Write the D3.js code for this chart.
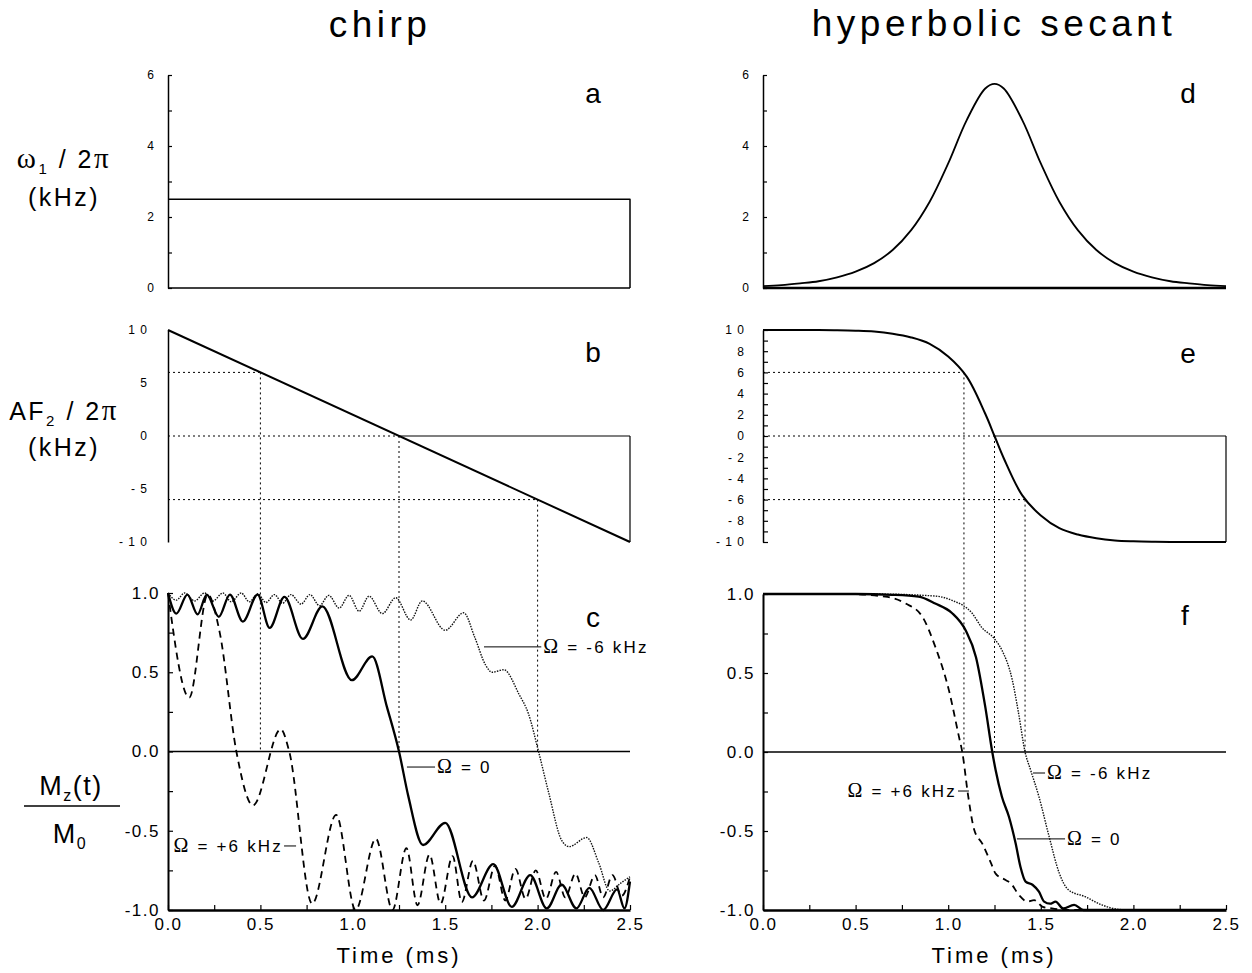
<!DOCTYPE html>
<html>
<head>
<meta charset="utf-8">
<script src="https://cdn.jsdelivr.net/npm/d3@7"></script>
<style>
  body { margin: 0; background: #fff; }
  text { font-family: "Liberation Sans", Arial, Helvetica, sans-serif; fill: #000; }
</style>
</head>
<body>
<svg id="fig" width="1252" height="973"></svg>
<script>
// ---------------- data ----------------
const timeDomain = [0, 2.5];                       // ms
const b1Ticks = [0, 1, 2, 3, 4, 5, 6];
const b1Labels = [0, 2, 4, 6];
const chirpSweepTicks = [-10, -5, 0, 5, 10];
const sechSweepTicks = d3.range(-10, 11, 1);
const sechSweepLabels = d3.range(-10, 11, 2);
const mzTicks = d3.range(-1, 1.0001, 0.25);
const mzLabels = [-1, -0.5, 0, 0.5, 1];
const timeTicks = d3.range(0, 2.5001, 0.25);
const timeLabels = [0, 0.5, 1, 1.5, 2, 2.5];

// chirp pulse: constant RF amplitude (kHz) and linear frequency sweep (kHz)
const chirpB1 = [[0, 2.5], [2.5, 2.5], [2.5, 0]];
const chirpSweep = [[0, 10], [2.5, -10]];

// hyperbolic secant pulse: amplitude and sweep (kHz)
const sechTimes = [0, 0.1, 0.2, 0.3, 0.4, 0.5, 0.6, 0.7, 0.8, 0.9, 1.0, 1.1, 1.2, 1.25,
                   1.3, 1.4, 1.5, 1.6, 1.7, 1.8, 1.9, 2.0, 2.1, 2.2, 2.3, 2.4, 2.5];
const sechB1 = [0.05, 0.08, 0.13, 0.19, 0.30, 0.46, 0.70, 1.07, 1.63, 2.43, 3.51, 4.73, 5.62, 5.75,
                5.62, 4.73, 3.51, 2.43, 1.63, 1.07, 0.70, 0.46, 0.30, 0.19, 0.13, 0.08, 0.05];
const sechSweep = [10, 10, 10, 9.99, 9.97, 9.93, 9.85, 9.65, 9.3, 8.7, 7.5, 5.6, 2.1, 0,
                   -2.1, -5.6, -7.5, -8.7, -9.3, -9.65, -9.85, -9.93, -9.97, -9.99, -10, -10, -10];

// resonance markers: time at which the sweep passes each offset (kHz)
const offsets = [6, 0, -6];
const chirpCrossTimes = [0.5, 1.25, 2.0];
const sechCrossTimes = [1.085, 1.25, 1.415];

// Mz(t)/M0 during the chirp pulse, three offsets
const chirpMzZero = [[0, 1.0], [0.045, 0.87], [0.105, 0.99], [0.16, 0.865], [0.21, 0.99], [0.275, 0.85],
  [0.335, 0.99], [0.405, 0.82], [0.485, 0.99], [0.55, 0.78], [0.63, 0.975], [0.73, 0.71], [0.835, 0.915],
  [0.995, 0.45], [1.105, 0.60], [1.185, 0.28], [1.25, 0.0], [1.30, -0.28], [1.38, -0.59], [1.50, -0.45],
  [1.645, -0.92], [1.76, -0.71], [1.86, -0.98], [1.96, -0.78], [2.05, -0.99], [2.13, -0.84], [2.21, -0.99],
  [2.28, -0.86], [2.355, -1.0], [2.43, -0.87], [2.47, -0.99], [2.5, -0.82]];
const chirpMzMinus6 = [[0, 1.0], [0.045, 0.955], [0.09, 1.0], [0.144, 0.95], [0.198, 1.0], [0.243, 0.95],
  [0.297, 1.0], [0.342, 0.945], [0.396, 1.0], [0.44, 0.945], [0.486, 0.995], [0.53, 0.94], [0.576, 0.99],
  [0.62, 0.935], [0.665, 0.99], [0.72, 0.93], [0.768, 0.99], [0.82, 0.92], [0.87, 0.985], [0.926, 0.905],
  [0.98, 0.985], [1.034, 0.885], [1.088, 0.98], [1.16, 0.87], [1.232, 0.97], [1.313, 0.83], [1.376, 0.95],
  [1.50, 0.765], [1.60, 0.875], [1.66, 0.72], [1.718, 0.547], [1.754, 0.50], [1.817, 0.516], [1.90, 0.36],
  [1.95, 0.24], [2.005, 0.0], [2.06, -0.26], [2.13, -0.56], [2.17, -0.60], [2.266, -0.543], [2.33, -0.70],
  [2.39, -0.88], [2.45, -0.83], [2.5, -0.79]];
const chirpMzPlus6 = [[0, 1.0], [0.115, 0.34], [0.215, 0.99], [0.28, 0.75], [0.37, 0.0], [0.46, -0.34],
  [0.61, 0.14], [0.656, 0.0], [0.78, -0.96], [0.91, -0.40], [1.015, -1.0], [1.125, -0.55], [1.215, -1.0],
  [1.29, -0.61], [1.35, -0.97], [1.415, -0.65], [1.475, -0.96], [1.54, -0.66], [1.59, -0.95], [1.65, -0.69],
  [1.71, -0.94], [1.77, -0.72], [1.825, -0.94], [1.88, -0.74], [1.935, -0.93], [1.99, -0.75], [2.045, -0.93],
  [2.10, -0.76], [2.15, -0.92], [2.205, -0.77], [2.255, -0.92], [2.31, -0.78], [2.355, -0.92], [2.405, -0.78],
  [2.455, -0.91], [2.5, -0.79]];

// Mz(t)/M0 during the hyperbolic secant pulse, three offsets
const sechMzZero = [[0, 1.0], [0.5, 1.0], [0.7, 0.995], [0.84, 0.983], [0.93, 0.94], [1.02, 0.88],
  [1.094, 0.77], [1.15, 0.60], [1.20, 0.287], [1.238, 0.0], [1.256, -0.114], [1.29, -0.283], [1.328, -0.41],
  [1.364, -0.578], [1.39, -0.726], [1.418, -0.82], [1.455, -0.84], [1.49, -0.884], [1.518, -0.947],
  [1.55, -0.96], [1.58, -0.947], [1.62, -0.99], [1.68, -0.968], [1.73, -1.0], [2.5, -1.0]];
const sechMzMinus6 = [[0, 1.0], [0.6, 1.0], [0.93, 0.987], [1.02, 0.96], [1.13, 0.877], [1.18, 0.79],
  [1.247, 0.72], [1.29, 0.645], [1.346, 0.456], [1.38, 0.245], [1.415, 0.0], [1.445, -0.114], [1.49, -0.283],
  [1.545, -0.536], [1.6, -0.768], [1.65, -0.873], [1.74, -0.916], [1.83, -0.968], [1.92, -0.996],
  [2.0, -1.0], [2.5, -1.0]];
const sechMzPlus6 = [[0, 1.0], [0.445, 1.0], [0.66, 0.983], [0.77, 0.94], [0.86, 0.857], [0.93, 0.667],
  [1.004, 0.39], [1.058, 0.097], [1.076, 0.0], [1.108, -0.28], [1.14, -0.49], [1.184, -0.58], [1.23, -0.70],
  [1.256, -0.77], [1.31, -0.81], [1.337, -0.83], [1.382, -0.905], [1.428, -0.947], [1.464, -0.937],
  [1.51, -0.98], [1.56, -0.99], [1.635, -1.0], [2.5, -1.0]];

// ---------------- layout ----------------
const svg = d3.select("#fig");
svg.append("rect").attr("width", 1252).attr("height", 973).attr("fill", "#fff");

const xL = d3.scaleLinear().domain(timeDomain).range([168, 630]);
const xR = d3.scaleLinear().domain(timeDomain).range([763, 1226]);
const yA = d3.scaleLinear().domain([0, 6]).range([288, 75]);
const yB = d3.scaleLinear().domain([-10, 10]).range([542, 330]);
const yC = d3.scaleLinear().domain([-1, 1]).range([910, 593]);
const yD = d3.scaleLinear().domain([0, 6]).range([288, 75]);
const yE = d3.scaleLinear().domain([-10, 10]).range([542, 330]);
const yF = d3.scaleLinear().domain([-1, 1]).range([910, 594]);

const FONT = '"Liberation Sans", Arial, Helvetica, sans-serif';
const SERIF = '"Liberation Serif", "Times New Roman", serif';
const spaced = d => String(d).split("").join(" ");

function leftAxis(x0, y, o) {
  const ax = d3.axisLeft(y).tickValues(o.ticks).tickSize(-o.size).tickSizeOuter(0)
    .tickPadding(o.pad).tickFormat(d => o.labels.some(l => Math.abs(l - d) < 1e-9) ? o.fmt(d) : "");
  const g = svg.append("g").attr("transform", `translate(${x0},0)`).call(ax);
  g.select(".domain").attr("stroke", "#000").attr("stroke-width", o.width);
  g.selectAll(".tick line").attr("stroke", "#000").attr("stroke-width", 1.2);
  g.selectAll(".tick text").attr("font-size", o.font).attr("font-family", FONT)
    .attr("fill", "#000").style("letter-spacing", o.ls + "px");
  return g;
}
function bottomAxis(y0, x) {
  const ax = d3.axisBottom(x).tickValues(timeTicks).tickSize(-5).tickSizeOuter(0).tickPadding(8)
    .tickFormat(d => timeLabels.some(l => Math.abs(l - d) < 1e-9) ? d.toFixed(1) : "");
  const g = svg.append("g").attr("transform", `translate(0,${y0})`).call(ax);
  g.select(".domain").attr("stroke", "#000").attr("stroke-width", 2.4);
  g.selectAll(".tick line").attr("stroke", "#000").attr("stroke-width", 1.2);
  g.selectAll(".tick text").attr("font-size", 17).attr("font-family", FONT)
    .attr("fill", "#000").style("letter-spacing", "1.5px");
  return g;
}
function curve(data, x, y, style, shape) {
  const line = d3.line().x(d => x(d[0])).y(d => y(d[1])).curve(shape || d3.curveMonotoneX);
  return svg.append("path").datum(data).attr("d", line).attr("fill", "none")
    .attr("stroke", style.color || "#000").attr("stroke-width", style.width)
    .attr("stroke-dasharray", style.dash || null).attr("stroke-linejoin", "round");
}
function seg(x1, y1, x2, y2, style) {
  svg.append("line").attr("x1", x1).attr("y1", y1).attr("x2", x2).attr("y2", y2)
    .attr("stroke", style.color || "#000").attr("stroke-width", style.width)
    .attr("stroke-dasharray", style.dash || null);
}
const solidStyle = { width: 2.3 };
const dashStyle = { width: 1.8, dash: "7,5" };
const dotCurveStyle = { width: 1.4, dash: "1.5,1.2", color: "#111" };
const guideStyle = { width: 1, dash: "2,3" };
const thinSolid = { width: 1.2 };

// ---------------- column titles ----------------
svg.append("text").attr("x", 380).attr("y", 37).attr("text-anchor", "middle")
  .attr("font-size", 37).style("letter-spacing", "4.5px").text("chirp");
svg.append("text").attr("x", 994).attr("y", 36).attr("text-anchor", "middle")
  .attr("font-size", 37).style("letter-spacing", "4.5px").text("hyperbolic secant");

// ---------------- row titles ----------------
function rowTitle(y, parts) {
  const t = svg.append("text").attr("x", 64).attr("y", y).attr("text-anchor", "middle")
    .attr("font-size", 25).style("letter-spacing", "2.5px");
  parts.forEach(p => {
    const s = t.append("tspan").text(p.s);
    if (p.serif) s.attr("font-family", SERIF).attr("font-size", 29);
    if (p.sub) s.attr("font-size", 15).attr("baseline-shift", "-6");
  });
}
rowTitle(168, [{ s: "ω", serif: true }, { s: "1", sub: true }, { s: " / 2" }, { s: "π", serif: true }]);
rowTitle(206, [{ s: "(kHz)" }]);
rowTitle(420, [{ s: "AF" }, { s: "2", sub: true }, { s: " / 2" }, { s: "π", serif: true }]);
rowTitle(456, [{ s: "(kHz)" }]);
const mz = svg.append("text").attr("x", 71).attr("y", 795).attr("text-anchor", "middle")
  .attr("font-size", 27).style("letter-spacing", "1.5px");
mz.append("tspan").text("M");
mz.append("tspan").text("z").attr("font-size", 16).attr("baseline-shift", "-6");
mz.append("tspan").text("(t)");
seg(24, 806, 120, 806, { width: 1.6 });
const m0 = svg.append("text").attr("x", 70).attr("y", 843).attr("text-anchor", "middle")
  .attr("font-size", 27).style("letter-spacing", "1.5px");
m0.append("tspan").text("M");
m0.append("tspan").text("0").attr("font-size", 16).attr("baseline-shift", "-6");

// ---------------- panel letters ----------------
[["a", 593, 103], ["b", 593, 362], ["c", 593, 627], ["d", 1188, 103], ["e", 1188, 363], ["f", 1185, 625]]
  .forEach(([s, x, y]) => svg.append("text").attr("x", x).attr("y", y).attr("text-anchor", "middle")
    .attr("font-size", 28).text(s));

// ---------------- panel a : chirp amplitude ----------------
leftAxis(xL(0), yA, { ticks: b1Ticks, labels: b1Labels, fmt: String, size: 4, pad: 14, font: 12, ls: 0, width: 1.5 });
seg(xL(0), yA(0), xL(2.5), yA(0), { width: 1.5 });
curve([[0, chirpB1[0][1]], ...chirpB1], xL, yA, { width: 1.5 }, d3.curveLinear);

// ---------------- panel d : sech amplitude ----------------
leftAxis(xR(0), yD, { ticks: b1Ticks, labels: b1Labels, fmt: String, size: 4, pad: 14, font: 12, ls: 0, width: 1.5 });
seg(xR(0), yD(0), xR(2.5), yD(0), { width: 2.6 });
curve(sechTimes.map((t, i) => [t, sechB1[i]]), xR, yD, { width: 1.8 }, d3.curveCatmullRom);

// ---------------- panel b : chirp sweep ----------------
leftAxis(xL(0), yB, { ticks: chirpSweepTicks, labels: chirpSweepTicks, fmt: spaced, size: 0, pad: 20, font: 12, ls: 1, width: 1.5 });
// zero line: guide up to the centre, solid afterwards, closed at the end of the pulse
seg(xL(0), yB(0), xL(1.25), yB(0), guideStyle);
seg(xL(1.25), yB(0), xL(2.5), yB(0), thinSolid);
seg(xL(2.5), yB(0), xL(2.5), yB(-10), thinSolid);
offsets.forEach((v, i) => {
  const t = chirpCrossTimes[i];
  if (v !== 0) seg(xL(0), yB(v), xL(t), yB(v), guideStyle);
  seg(xL(t), yB(v), xL(t), yC(0), guideStyle);
});
curve(chirpSweep, xL, yB, { width: 2 }, d3.curveLinear);

// ---------------- panel e : sech sweep ----------------
leftAxis(xR(0), yE, { ticks: sechSweepTicks, labels: sechSweepLabels, fmt: spaced, size: 5, pad: 18, font: 12, ls: 1, width: 1.5 });
seg(xR(0), yE(0), xR(1.25), yE(0), guideStyle);
seg(xR(1.25), yE(0), xR(2.5), yE(0), thinSolid);
seg(xR(2.5), yE(0), xR(2.5), yE(-10), thinSolid);
offsets.forEach((v, i) => {
  const t = sechCrossTimes[i];
  if (v !== 0) seg(xR(0), yE(v), xR(t), yE(v), guideStyle);
  seg(xR(t), yE(v), xR(t), yF(0), guideStyle);
});
curve(sechTimes.map((t, i) => [t, sechSweep[i]]), xR, yE, { width: 2 }, d3.curveCatmullRom);

// ---------------- panel c : Mz under chirp ----------------
leftAxis(xL(0), yC, { ticks: mzTicks, labels: mzLabels, fmt: d => d.toFixed(1), size: 5, pad: 8, font: 17, ls: 1.5, width: 2 });
bottomAxis(yC(-1), xL);
seg(xL(0), yC(0), xL(2.5), yC(0), { width: 1.4 });
curve(chirpMzMinus6, xL, yC, dotCurveStyle);
curve(chirpMzPlus6, xL, yC, dashStyle);
curve(chirpMzZero, xL, yC, solidStyle);

// ---------------- panel f : Mz under sech ----------------
leftAxis(xR(0), yF, { ticks: mzTicks, labels: mzLabels, fmt: d => d.toFixed(1), size: 5, pad: 8, font: 17, ls: 1.5, width: 2 });
bottomAxis(yF(-1), xR);
seg(xR(0), yF(0), xR(2.5), yF(0), { width: 1.4 });
curve(sechMzMinus6, xR, yF, dotCurveStyle);
curve(sechMzPlus6, xR, yF, dashStyle);
curve(sechMzZero, xR, yF, solidStyle);

// ---------------- curve labels with leader lines ----------------
function omegaLabel(x, y, o) {
  seg(x(o.t0), y(o.v), x(o.t1), y(o.v), { width: 1 });
  const tx = o.anchor === "end" ? x(o.t0) - 1 : x(o.t1) + 2;
  const t = svg.append("text").attr("x", tx).attr("y", y(o.v) + 6)
    .attr("text-anchor", o.anchor || "start").attr("font-size", 17).style("letter-spacing", "2.2px");
  t.append("tspan").attr("font-family", SERIF).attr("font-size", 20).text("Ω");
  t.append("tspan").text(o.s);
}
omegaLabel(xL, yC, { t0: 1.71, t1: 2.02, v: 0.66, s: " = -6 kHz" });
omegaLabel(xL, yC, { t0: 1.293, t1: 1.445, v: -0.098, s: " = 0" });
omegaLabel(xL, yC, { t0: 0.628, t1: 0.693, v: -0.596, s: " = +6 kHz", anchor: "end" });
omegaLabel(xR, yF, { t0: 1.458, t1: 1.523, v: -0.133, s: " = -6 kHz" });
omegaLabel(xR, yF, { t0: 1.053, t1: 1.112, v: -0.247, s: " = +6 kHz", anchor: "end" });
omegaLabel(xR, yF, { t0: 1.371, t1: 1.631, v: -0.55, s: " = 0" });

// ---------------- x axis titles ----------------
[[399, "Time (ms)"], [994, "Time (ms)"]].forEach(([x, s]) =>
  svg.append("text").attr("x", x).attr("y", 963).attr("text-anchor", "middle")
    .attr("font-size", 22).style("letter-spacing", "3px").text(s));
</script>
</body>
</html>
